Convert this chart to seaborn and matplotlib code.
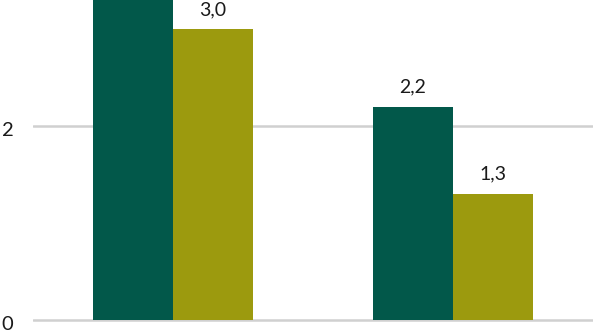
import matplotlib
matplotlib.use("Agg")
import matplotlib.pyplot as plt
import matplotlib.transforms as mtransforms
import seaborn as sns
import pandas as pd

categories = ["A", "B"]
series_names = ["Serie 1", "Serie 2"]
series1 = [3.6, 2.2]
series2 = [3.0, 1.3]
yticks = [0, 2]

df = pd.DataFrame({
    "cat": categories * 2,
    "serie": [series_names[0]] * 2 + [series_names[1]] * 2,
    "val": series1 + series2,
})

sns.set_theme(style="white")
plt.rcParams["font.family"] = ["Lato", "DejaVu Sans"]

fig = plt.figure(figsize=(6.0, 3.34), dpi=100)
ax = fig.add_axes([0.055, 0.0, 0.933, 1.0])
sns.barplot(data=df, x="cat", y="val", hue="serie", ax=ax,
            palette=["#02584A", "#9C9A0E"], width=0.57, saturation=1,
            legend=False, linewidth=0)

ax.set_xlim(-0.5, 1.5)
ax.set_ylim(-0.144, 3.299)
ax.set_yticks(yticks)
ax.set_yticklabels([str(t) for t in yticks], fontsize=14.5, color="#1a1a1a")
ax.tick_params(axis="y", length=0, pad=14)
offset = mtransforms.ScaledTranslation(0, -3 / 100, fig.dpi_scale_trans)
for lbl in ax.get_yticklabels():
    lbl.set_transform(lbl.get_transform() + offset)
ax.set_xticks([])
ax.set_xlabel("")
ax.set_ylabel("")
for s in ax.spines.values():
    s.set_visible(False)
ax.yaxis.grid(True, color="#D0D0D0", linewidth=1.8)
ax.set_axisbelow(True)

for cont in ax.containers:
    ax.bar_label(cont, labels=[f"{v:.1f}".replace(".", ",") for v in cont.datavalues],
                 padding=8, fontsize=14, color="#1a1a1a")

fig.savefig("out.png", dpi=100)
